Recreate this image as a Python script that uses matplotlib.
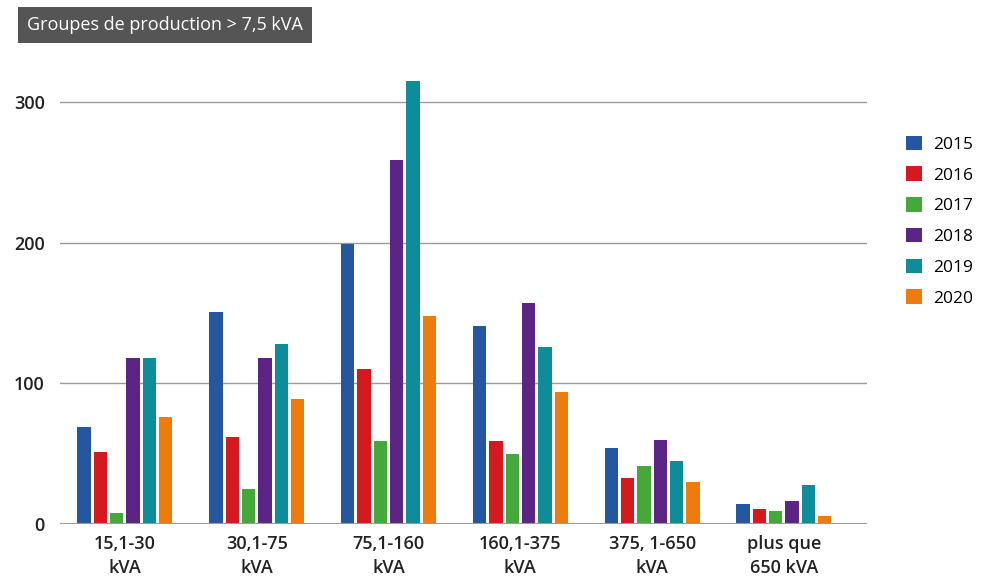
import numpy as np
import matplotlib.pyplot as plt
from matplotlib.patches import Patch

plt.rcParams['font.family'] = ['Open Sans', 'DejaVu Sans']

categories = ['15,1-30\nkVA', '30,1-75\nkVA', '75,1-160\nkVA',
              '160,1-375\nkVA', '375, 1-650\nkVA', 'plus que\n650 kVA']
years = ['2015', '2016', '2017', '2018', '2019', '2020']
v2015 = [69, 151, 199, 141, 54, 14]
v2016 = [51, 62, 110, 59, 33, 11]
v2017 = [8, 25, 59, 50, 41, 9]
v2018 = [118, 118, 259, 157, 60, 16]
v2019 = [118, 128, 315, 126, 45, 28]
v2020 = [76, 89, 148, 94, 30, 6]
series = [v2015, v2016, v2017, v2018, v2019, v2020]
colors = ['#2457a0', '#d4191f', '#45a83a', '#5c2483', '#0e8c99', '#ee7b0d']
title = 'Groupes de production > 7,5 kVA'

fig = plt.figure(figsize=(10, 5.8), dpi=100)
ax = fig.add_axes([0.060, 0.0966, 0.807, 0.80])

x = np.arange(len(categories))
step, width = 0.124, 0.101
for i, (vals, col) in enumerate(zip(series, colors)):
    ax.bar(x + (i - 2.5) * step, vals, width=width, color=col, zorder=3)

ax.set_xlim(-0.493, 5.63)
ax.set_ylim(0, 330)
ax.set_yticks([0, 100, 200, 300])
ax.yaxis.grid(True, color='#9a9a9a', lw=1, zorder=0)
ax.axhline(0, color='#9a9a9a', lw=1.5, zorder=4)
for s in ax.spines.values():
    s.set_visible(False)
ax.set_xticks(x)
ax.set_xticklabels(categories, linespacing=1.4)
ax.tick_params(axis='both', length=0, labelsize=13, colors='#222222')
ax.tick_params(axis='y', pad=11)
ax.tick_params(axis='x', pad=8)
for lab in ax.get_xticklabels() + ax.get_yticklabels():
    lab.set_fontweight('semibold')

handles = [Patch(facecolor=c, edgecolor='none') for c in colors]
fig.legend(handles, years, loc='upper left', bbox_to_anchor=(0.906, 0.766),
           frameon=False, fontsize=12.5, borderpad=0, borderaxespad=0,
           handlelength=0.9, handleheight=0.9, handletextpad=0.65,
           labelspacing=0.78)

fig.text(0.027, 0.957, title, fontsize=13, color='white', va='center', ha='left',
         bbox=dict(boxstyle='square,pad=0.5', facecolor='#555555', edgecolor='none'))

fig.savefig('out.png', dpi=100)
